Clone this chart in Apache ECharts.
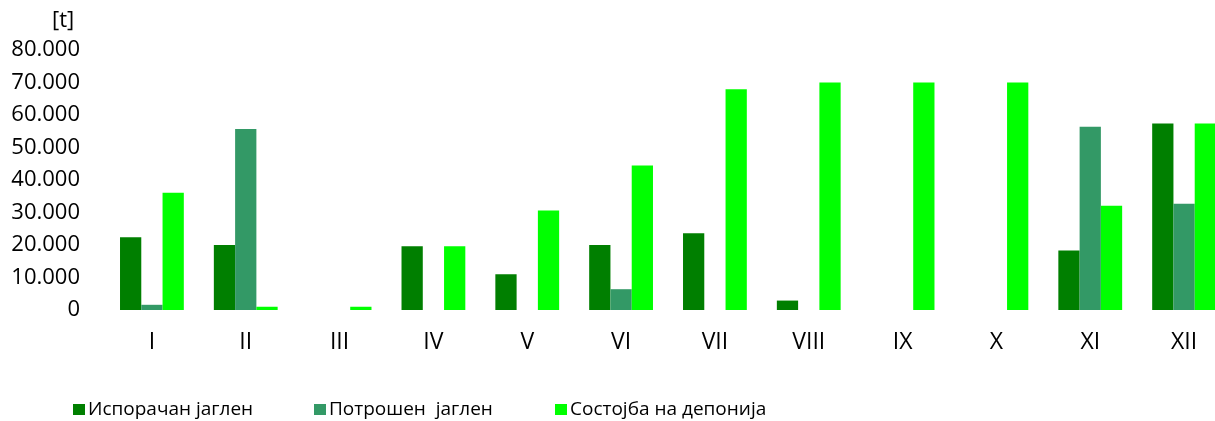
<!DOCTYPE html>
<html>
<head>
<meta charset="utf-8">
<script src="https://cdn.jsdelivr.net/npm/echarts@6/dist/echarts.min.js"></script>
<style>html,body{margin:0;padding:0;background:#fff}#c{width:1215px;height:421px}</style>
</head>
<body>
<div id="c"></div>
<script>
const categories = ['I','II','III','IV','V','VI','VII','VIII','IX','X','XI','XII'];
const seriesNames = ['Испорачан јаглен', 'Потрошен  јаглен', 'Состојба на депонија'];
const delivered = [22400, 20000, 0, 19600, 11000, 20000, 23600, 2900, 0, 0, 18300, 57400];
const consumed  = [1600, 55700, 0, 0, 0, 6400, 0, 0, 0, 0, 56400, 32700];
const stock     = [36100, 1000, 1000, 19600, 30600, 44500, 67900, 70000, 70000, 70000, 32100, 57400];
const yMax = 80000, yStep = 10000;
const unitLabel = '[t]';
const colors = ['#007f00', '#339966', '#00ff00'];
const FONT = 'Open Sans';

const chart = echarts.init(document.getElementById('c'));
const data = [delivered, consumed, stock];
const legendLeft = [73, 314, 555];
chart.setOption({
  animation: false,
  textStyle: { fontFamily: FONT },
  grid: { left: 105, top: 50, width: 1126, height: 260, outerBoundsMode: 'none', containLabel: false },
  graphic: [{ type: 'text', left: 52, top: 10, style: { text: unitLabel, font: '22px ' + FONT, fill: '#000' } }],
  legend: seriesNames.map((n, i) => ({
    data: [n], left: legendLeft[i], top: 400, padding: 0, itemWidth: 12, itemHeight: 11, itemGap: 0,
    icon: 'rect', textStyle: { fontSize: 19, color: '#000', fontFamily: FONT, padding: [0, 0, 0, -2] }
  })),
  xAxis: {
    type: 'category', data: categories,
    axisLine: { show: false }, axisTick: { show: false },
    axisLabel: { fontSize: 23, color: '#000', margin: 21, fontFamily: FONT }
  },
  yAxis: {
    type: 'value', min: 0, max: yMax, interval: yStep,
    splitLine: { show: false }, axisLine: { show: false }, axisTick: { show: false },
    axisLabel: { fontSize: 22, color: '#000', margin: 25, fontFamily: FONT,
      formatter: v => v === 0 ? '0' : (v / 1000) + '.000' }
  },
  series: seriesNames.map((n, i) => ({
    name: n, type: 'bar', data: data[i], barGap: 0, barCategoryGap: '32%',
    itemStyle: { color: colors[i] }
  }))
});
</script>
</body>
</html>
